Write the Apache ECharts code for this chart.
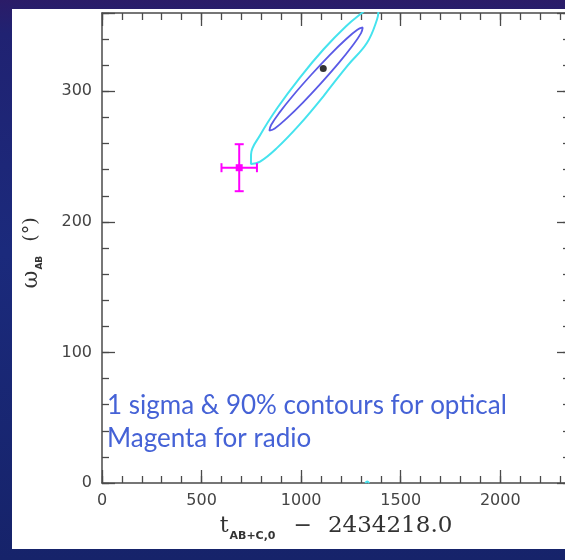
<!DOCTYPE html>
<html><head><meta charset="utf-8">
<script src="https://cdn.jsdelivr.net/npm/echarts@6/dist/echarts.min.js"></script>
<style>
html,body{margin:0;padding:0;width:565px;height:560px;overflow:hidden;position:relative;
background:linear-gradient(180deg,#2b1c68 0%,#202272 6%,#1b2a7c 45%,#16236a 100%);}
#panel{position:absolute;left:12px;top:9px;width:553px;height:540px;background:#fff;}
#chart{position:absolute;left:0;top:0;width:585px;height:560px;}
</style></head><body><div id="panel"></div><div id="chart"></div>
<script>
// ---- data ----
const xTickLabels = ['0', '500', '1000', '1500', '2000'];
const yTickLabels = ['0', '100', '200', '300'];
const xMax = 2350, yMax = 360;
// 1-sigma contour (blue)
const innerContour = [
  [1099, 306.1], [1007.6, 291.2], [926.2, 279.1], [867.6, 271.6], [840.5, 269.9],
  [849.1, 274.2], [892, 283.9], [962.7, 297.4], [1050.7, 312.7], [1142.2, 327.6],
  [1223.6, 339.7], [1282.2, 347.2], [1309.3, 348.9], [1300.8, 344.6], [1257.8, 334.9],
  [1187.1, 321.4], [1099, 306.1]
];
// 90% contour (cyan)
const outerContour = [
  [1111.6, 296.2], [990.6, 274.3], [879, 256.7], [793.8, 246.2], [748, 244.4],
  [748.4, 251.6], [795.1, 266.7], [881, 287.4], [992.9, 310.4], [1113.9, 332.4],
  [1225.5, 349.9], [1305, 360], [1350, 365], [1388, 362], [1381, 355],
  [1330, 337], [1232, 319.5], [1111.6, 296.2]
];
// part of the 90% contour wrapped past 360 deg
const outerWrap = [[1322, 0], [1332, 1.2], [1342, 0]];
const bestFit = [[1111, 317.5]];
// radio point with error bars
const radioX = [689];
const radioY = [241.5];
const radioXErr = [89];
const radioYErr = [18];
const noteLines = ['1 sigma & 90% contours for optical', 'Magenta for radio'];

const AX = '#4a4a4a', LBL = '#444';
function xAx(pos, interval, len, main) {
  return {
    type: 'value', min: 0, max: xMax, interval: interval, position: pos,
    axisLine: { show: main, onZero: false, lineStyle: { color: AX, width: 1.5 } },
    axisTick: { inside: true, length: len, lineStyle: { color: AX, width: 1.3 } },
    axisLabel: (main && pos === 'bottom') ? {
      margin: 10, color: LBL, fontFamily: 'DejaVu Sans', fontSize: 16,
      formatter: v => xTickLabels.includes(String(v)) ? String(v) : ''
    } : { show: false },
    splitLine: { show: false }
  };
}
function yAx(pos, interval, len, main) {
  return {
    type: 'value', min: 0, max: yMax, interval: interval, position: pos,
    axisLine: { show: main, onZero: false, lineStyle: { color: AX, width: 1.5 } },
    axisTick: { inside: true, length: len, lineStyle: { color: AX, width: 1.3 } },
    axisLabel: (main && pos === 'left') ? {
      margin: 10, color: LBL, fontFamily: 'DejaVu Sans', fontSize: 16,
      formatter: v => yTickLabels.includes(String(v)) ? String(v) : ''
    } : { show: false },
    splitLine: { show: false }
  };
}

const xMain = xAx('bottom', 500, 13, true);
xMain.name = '{t|t}{s|AB+C,0}{m|\u2212}{n|2434218.0}';
xMain.nameLocation = 'middle';
xMain.nameGap = 28;
xMain.nameTextStyle = {
  color: '#333',
  rich: {
    t: { fontFamily: 'DejaVu Serif', fontSize: 22, lineHeight: 31, color: '#333' },
    s: { fontFamily: 'DejaVu Sans', fontWeight: 'bold', fontSize: 11, lineHeight: 12, verticalAlign: 'bottom', color: '#333', padding: [0, 0, 0, 1] },
    m: { fontFamily: 'DejaVu Serif', fontSize: 22, lineHeight: 31, color: '#333', padding: [0, 16, 0, 18] },
    n: { fontFamily: 'DejaVu Serif', fontSize: 23, lineHeight: 31, color: '#333' }
  }
};
const yMain = yAx('left', 100, 13, true);
yMain.name = '{w|\u03c9}{s|AB}{d|(\u00b0)}';
yMain.nameLocation = 'middle';
yMain.nameRotate = 90;
yMain.nameGap = 58;
yMain.nameTextStyle = {
  color: '#333',
  rich: {
    w: { fontFamily: 'DejaVu Serif', fontSize: 22, lineHeight: 26, color: '#333' },
    s: { fontFamily: 'DejaVu Sans', fontWeight: 'bold', fontSize: 9, lineHeight: 12, verticalAlign: 'bottom', color: '#333', padding: [0, 14, 0, 1] },
    d: { fontFamily: 'DejaVu Serif', fontSize: 19, lineHeight: 26, color: '#333', padding: [0, 10, 0, 0] }
  }
};

function renderErr(params, api) {
  const x = api.value(0), y = api.value(1), ex = api.value(2), ey = api.value(3);
  const c = api.coord([x, y]);
  const l = api.coord([x - ex, y]), r = api.coord([x + ex, y]);
  const t = api.coord([x, y + ey]), b = api.coord([x, y - ey]);
  const cap = 4.5;
  const st = { stroke: '#ff00ff', lineWidth: 2 };
  return {
    type: 'group', children: [
      { type: 'line', shape: { x1: l[0], y1: l[1], x2: r[0], y2: r[1] }, style: st },
      { type: 'line', shape: { x1: t[0], y1: t[1], x2: b[0], y2: b[1] }, style: st },
      { type: 'line', shape: { x1: l[0], y1: l[1] - cap, x2: l[0], y2: l[1] + cap }, style: st },
      { type: 'line', shape: { x1: r[0], y1: r[1] - cap, x2: r[0], y2: r[1] + cap }, style: st },
      { type: 'line', shape: { x1: t[0] - cap, y1: t[1], x2: t[0] + cap, y2: t[1] }, style: st },
      { type: 'line', shape: { x1: b[0] - cap, y1: b[1], x2: b[0] + cap, y2: b[1] }, style: st },
      { type: 'rect', shape: { x: c[0] - 3.5, y: c[1] - 3.5, width: 7, height: 7 }, style: { fill: '#ff00ff' } }
    ]
  };
}

const chart = echarts.init(document.getElementById('chart'), null, { renderer: 'canvas' });
chart.setOption({
  animation: false,
  backgroundColor: 'transparent',
  grid: { left: 102, right: 15, top: 13, bottom: 77, containLabel: false, outerBoundsMode: 'none' },
  xAxis: [xMain, xAx('bottom', 100, 7, false), xAx('top', 500, 13, true), xAx('top', 100, 7, false)],
  yAxis: [yMain, yAx('left', 20, 7, false), yAx('right', 100, 13, true), yAx('right', 20, 7, false)],
  graphic: [
    { type: 'text', left: 107, top: 393, style: { text: noteLines[0], fill: '#4562d6', fontFamily: 'Lato', fontSize: 26 } },
    { type: 'text', left: 107, top: 426, style: { text: noteLines[1], fill: '#4562d6', fontFamily: 'Lato', fontSize: 26 } }
  ],
  series: [
    { type: 'line', name: '90%', data: outerContour, smooth: 0.4, symbol: 'none', lineStyle: { color: '#45e3ee', width: 2 }, z: 3 },
    { type: 'line', name: '90% wrap', data: outerWrap, smooth: 0.4, symbol: 'none', lineStyle: { color: '#45e3ee', width: 2 }, z: 3 },
    { type: 'line', name: '1 sigma', data: innerContour, smooth: 0.4, symbol: 'none', lineStyle: { color: '#5a5ae6', width: 1.8 }, z: 4 },
    { type: 'scatter', name: 'best fit', data: bestFit, symbol: 'circle', symbolSize: 7, itemStyle: { color: '#000' }, z: 5 },
    { type: 'custom', name: 'radio', data: radioX.map((x, i) => [x, radioY[i], radioXErr[i], radioYErr[i]]), encode: { x: 0, y: 1 }, renderItem: renderErr, z: 6 }
  ]
});
</script></body></html>
